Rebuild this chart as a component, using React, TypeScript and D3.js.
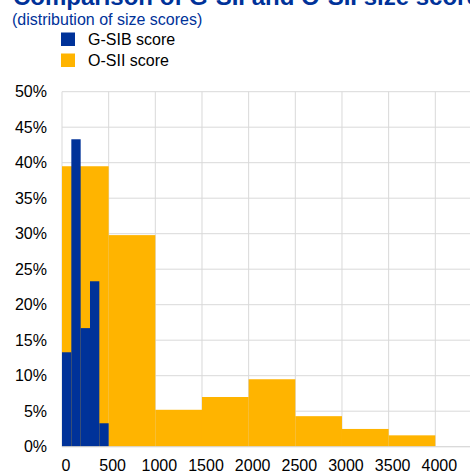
import React from "react";
import * as d3 from "d3";

const osiiBins = [0, 500, 1000, 1500, 2000, 2500, 3000, 3500];
const osiiValues = [39.5, 29.8, 5.2, 7.0, 9.5, 4.3, 2.5, 1.6];
const osiiWidth = 500;

const gsibBins = [0, 100, 200, 300, 400];
const gsibValues = [13.3, 43.3, 16.7, 23.3, 3.3];
const gsibWidth = 100;

const xTicks = [0, 500, 1000, 1500, 2000, 2500, 3000, 3500, 4000];
const yTicks = [0, 5, 10, 15, 20, 25, 30, 35, 40, 45, 50];

const legendLabels = ["G-SIB score", "O-SII score"];
const BLUE = "#003299";
const YELLOW = "#FFB400";
const FONT = "'Liberation Sans', Arial, sans-serif";

export default function App() {
  const W = 470;
  const H = 474;
  const x = d3.scaleLinear().domain([0, 4000]).range([62, 435.3]);
  const y = d3.scaleLinear().domain([0, 50]).range([446.7, 91.7]);
  const plotRight = 470;

  return (
    <svg
      width={W}
      height={H}
      style={{ position: "absolute", left: 0, top: 0, display: "block" }}
      fontFamily={FONT}
    >
      <rect x={0} y={0} width={W} height={H} fill="#fff" />
      <text x={13} y={4.5} fontSize={24} fontWeight="bold" fill={BLUE}>
        Comparison of G-SII and O-SII size scores
      </text>
      <text x={12} y={25} fontSize={16} fill={BLUE}>
        (distribution of size scores)
      </text>
      {legendLabels.map((l, i) => (
        <g key={l}>
          <rect x={61} y={32.5 + i * 21} width={14} height={13.5} fill={i === 0 ? BLUE : YELLOW} />
          <text x={88} y={45 + i * 21} fontSize={16} fill="#000">
            {l}
          </text>
        </g>
      ))}
      {/* grid */}
      {yTicks.map((t) => (
        <line key={"h" + t} x1={x(0)} x2={plotRight} y1={y(t)} y2={y(t)} stroke="#d9d9d9" strokeWidth={1} />
      ))}
      {xTicks.map((t) => (
        <line key={"v" + t} x1={x(t)} x2={x(t)} y1={y(50)} y2={y(0)} stroke="#d9d9d9" strokeWidth={1} />
      ))}
      {/* O-SII bars */}
      {osiiBins.map((b, i) => (
        <rect
          key={"o" + b}
          x={x(b)}
          width={x(b + osiiWidth) - x(b)}
          y={y(osiiValues[i])}
          height={y(0) - y(osiiValues[i])}
          fill={YELLOW}
        />
      ))}
      {/* G-SIB bars */}
      {gsibBins.map((b, i) => (
        <rect
          key={"g" + b}
          x={x(b)}
          width={x(b + gsibWidth) - x(b)}
          y={y(gsibValues[i])}
          height={y(0) - y(gsibValues[i])}
          fill={BLUE}
        />
      ))}
      <line x1={x(0)} x2={plotRight} y1={y(0)} y2={y(0)} stroke="#d9d9d9" strokeWidth={1} />
      {/* y labels */}
      {yTicks.map((t) => (
        <text key={"yl" + t} x={47} y={y(t)} dy="0.35em" fontSize={16} textAnchor="end" fill="#000">
          {t + "%"}
        </text>
      ))}
      {xTicks.map((t) => (
        <text key={"xl" + t} x={x(t) + 4} y={471} fontSize={16} textAnchor="middle" fill="#000">
          {String(t)}
        </text>
      ))}
    </svg>
  );
}
